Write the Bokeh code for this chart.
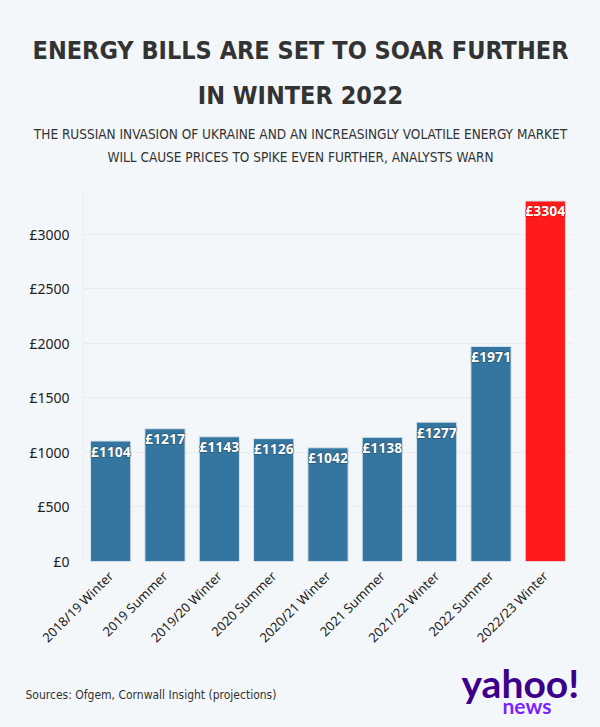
from math import pi
from bokeh.plotting import figure
from bokeh.layouts import column
from bokeh.models import (ColumnDataSource, FactorRange, Range1d, FixedTicker,
                          PrintfTickFormatter)
from bokeh.core.properties import value
from bokeh.embed import file_html
from bokeh.resources import INLINE

# ---- data ----
categories = ["2018/19 Winter", "2019 Summer", "2019/20 Winter", "2020 Summer",
              "2020/21 Winter", "2021 Summer", "2021/22 Winter", "2022 Summer",
              "2022/23 Winter"]
values = [1104, 1217, 1143, 1126, 1042, 1138, 1277, 1971, 3304]
projected = [False, False, False, False, False, False, False, False, True]
y_ticks = [0, 500, 1000, 1500, 2000, 2500, 3000]

title_lines = ["ENERGY BILLS ARE SET TO SOAR FURTHER", "IN WINTER 2022"]
subtitle_lines = ["THE RUSSIAN INVASION OF UKRAINE AND AN INCREASINGLY VOLATILE ENERGY MARKET",
                  "WILL CAUSE PRICES TO SPIKE EVEN FURTHER, ANALYSTS WARN"]
source_text = "Sources: Ofgem, Cornwall Insight (projections)"

BG = "#f4f7fa"
BLUE = "#3476a0"
RED = "#ff1a1a"
COND = "Liberation Sans Narrow, DejaVu Sans Condensed, Arial Narrow, sans-serif"

W = 600
HEAD_H, MAIN_H, FOOT_H = 170, 485, 72


def blank(h):
    f = figure(width=W, height=h, x_range=Range1d(0, W), y_range=Range1d(h, 0),
               x_axis_type=None, y_axis_type=None, output_backend="svg",
               toolbar_location=None, min_border=0, frame_align=False)
    f.background_fill_color = BG
    f.border_fill_color = BG
    f.outline_line_color = None
    f.grid.grid_line_color = None
    return f


def txt(f, s, x, y, size, color="#333333", font=COND, style="bold", align="center"):
    f.text(x=[x], y=[y], text=[s], text_align=align, text_baseline="alphabetic",
           text_font=value(font), text_font_size=size, text_font_style=style,
           text_color=color)


# ---- header ----
head = blank(HEAD_H)
txt(head, title_lines[0], 300, 50, "25px")
txt(head, title_lines[1], 300, 95, "25px")
txt(head, subtitle_lines[0], 300, 133, "13.5px", style="normal")
txt(head, subtitle_lines[1], 300, 156, "13.5px", style="normal")

# ---- main chart ----
src = ColumnDataSource(dict(
    cat=categories,
    val=values,
    lbl=["£%d" % v for v in values],
    color=[RED if p else BLUE for p in projected],
    outline=["#d40000" if p else "#1d4a68" for p in projected],
))

p = figure(width=W, height=MAIN_H, x_range=FactorRange(*categories),
           y_range=Range1d(0, 3400), output_backend="svg",
           toolbar_location=None, min_border_left=83, min_border_right=28,
           min_border_top=20, min_border_bottom=92, frame_align=False)
p.background_fill_color = BG
p.border_fill_color = BG
p.outline_line_color = None

p.vbar(x="cat", top="val", width=0.74, source=src, fill_color="color",
       line_color="#d6e3ec", line_width=1)
lbl_kw = dict(x="cat", y="val", text="lbl", source=src, text_align="center",
              text_baseline="middle", y_offset=10, text_font_size="14px",
              text_font_style="bold", text_font=value("Noto Sans"))
p.text(text_color="outline", text_outline_color="outline", **lbl_kw)
p.text(text_color="white", **lbl_kw)

p.yaxis.ticker = FixedTicker(ticks=y_ticks)
p.yaxis.formatter = PrintfTickFormatter(format="£%d")
p.yaxis.axis_line_color = "#e8ecf0"
p.yaxis.major_tick_line_color = None
p.yaxis.minor_tick_line_color = None
p.yaxis.major_label_text_font = "Noto Sans"
p.yaxis.major_label_text_font_size = "14px"
p.yaxis.major_label_text_color = "#222222"
p.yaxis.major_label_standoff = 8

p.xaxis.axis_line_color = None
p.xaxis.major_tick_line_color = None
p.xaxis.major_label_orientation = pi / 4
p.xaxis.major_label_text_font = "Noto Sans"
p.xaxis.major_label_text_font_size = "13px"
p.xaxis.major_label_text_color = "#222222"
p.xaxis.major_label_standoff = 6

p.xgrid.grid_line_color = None
p.ygrid.grid_line_color = "#e8ecf0"

# ---- footer ----
foot = blank(FOOT_H)
txt(foot, source_text, 25, 39, "12px", style="normal", align="left")
txt(foot, "yahoo!", 461, 27, "39px", color="#3d008a", font="Lato", align="left")
txt(foot, "news", 502, 50, "21px", color="#7e1fff", font="Lato", align="left")

layout = column(head, p, foot, spacing=0, styles={"background-color": BG})
open("out.html", "w").write(file_html(layout, INLINE))
